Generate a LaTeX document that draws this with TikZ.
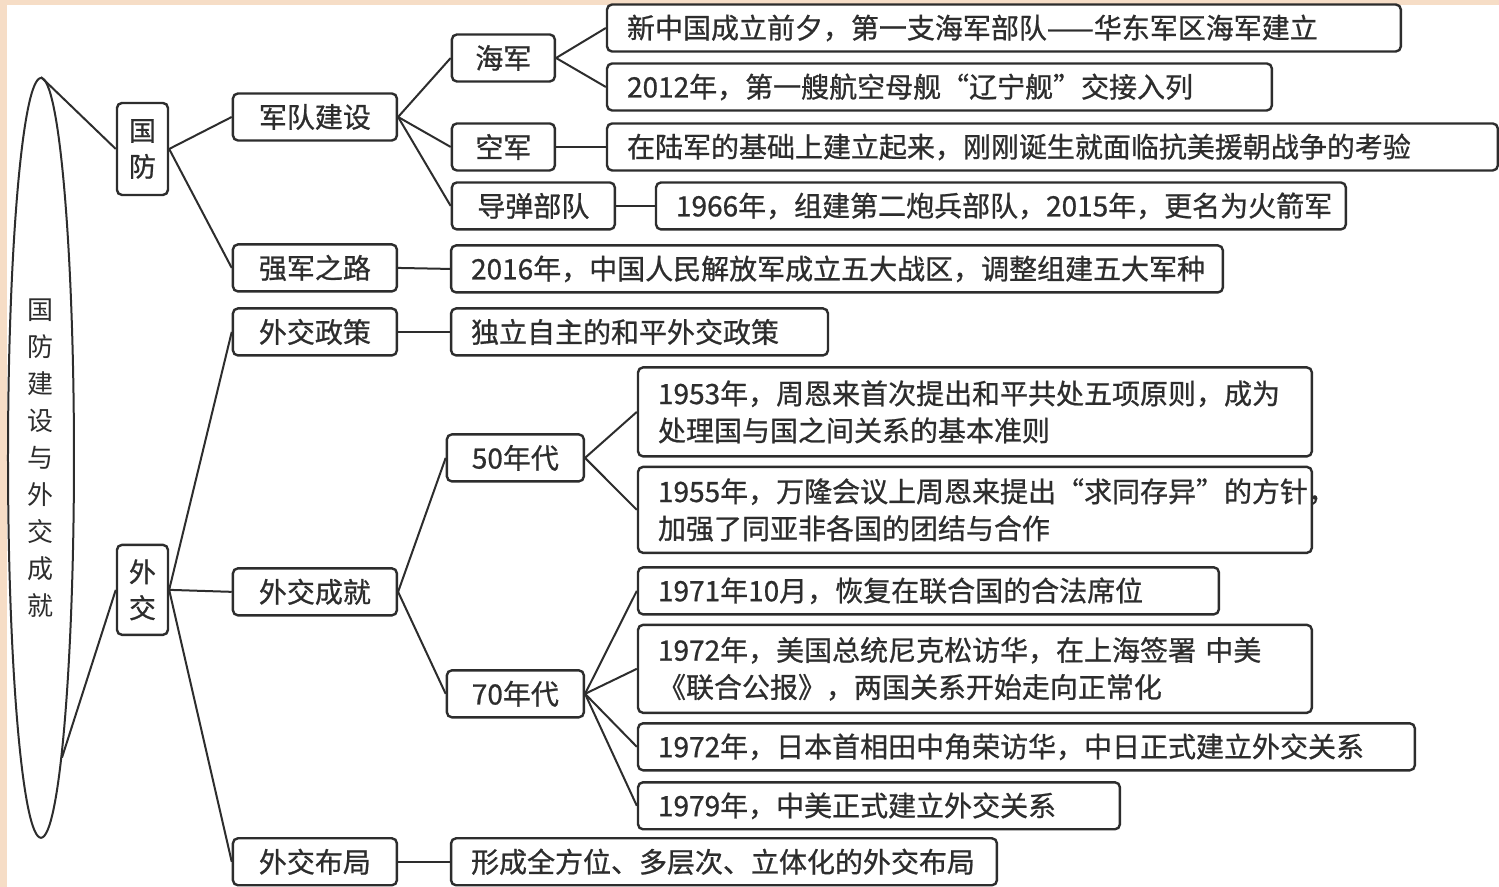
\documentclass[tikz,border=0pt]{standalone}
\usepackage{fontspec}
\newfontfamily\cjk{Noto Sans CJK SC}[FakeBold=0.8]
\newfontfamily\cjklight{Noto Sans CJK SC}
\usetikzlibrary{shapes.geometric}
\definecolor{ink}{RGB}{45,45,45}
\definecolor{peach}{RGB}{246,221,198}
\tikzset{
  box/.style={draw=ink,line width=2.4pt,rounded corners=5pt,fill=white},
  tag/.style={box,minimum height=47pt},
  tier/.style={tag,minimum width=164pt},
  note/.style={tag,anchor=west,align=left,inner xsep=20pt,text width=#1},
  link/.style={draw=ink,line width=2pt}
}

\begin{document}
\begin{tikzpicture}
  [x=1pt,y=-1pt,every node/.style={text=ink,font=\cjk\fontsize{28}{37}\selectfont}]
  \fill[peach] (0,0) rectangle (1499,887);
  \fill[white] (7,5) rectangle (1499,887);

  \node[ellipse,draw=ink,line width=2pt,minimum width=66pt,minimum height=760pt,
        inner sep=0pt,align=center,font=\cjklight\fontsize{26}{37}\selectfont]
        (root) at (41,458) {国\\防\\建\\设\\与\\外\\交\\成\\就};

  \node[box,minimum width=51pt,minimum height=92pt,inner sep=0pt,align=center,
        font=\cjk\fontsize{27}{36}\selectfont] (gf) at (142.5,149) {国\\防};
  \node[box,minimum width=51pt,minimum height=90pt,inner sep=0pt,align=center,
        font=\cjk\fontsize{27}{36}\selectfont] (wj) at (142.5,590) {外\\交};

  \node[tier] (jd) at (315,117) {军队建设};
  \node[tier] (qj) at (315,268) {强军之路};
  \node[tier] (zc) at (315,332) {外交政策};
  \node[tier] (cj) at (315,592) {外交成就};
  \node[tier] (bj) at (315,862) {外交布局};

  \node[tag,minimum width=103pt] (hj) at (503.5,58) {海军};
  \node[tag,minimum width=103pt] (kj) at (503.5,147) {空军};
  \node[tag,minimum width=163pt] (dd) at (533.5,206) {导弹部队};
  \node[tag,minimum width=137pt] (n50) at (515.5,458) {50年代};
  \node[tag,minimum width=137pt] (n70) at (515.5,694) {70年代};

  \node[note=754pt] (a1) at (606,28) {新中国成立前夕，第一支海军部队——华东军区海军建立};
  \node[note=625pt] (a2) at (606,87) {2012年，第一艘航空母舰“辽宁舰”交接入列};
  \node[note=851pt] (a3) at (606,147) {在陆军的基础上建立起来，刚刚诞生就面临抗美援朝战争的考验};
  \node[note=650pt] (a4) at (655,206) {1966年，组建第二炮兵部队，2015年，更名为火箭军};
  \node[note=732pt] (b1) at (450,269) {2016年，中国人民解放军成立五大战区，调整组建五大军种};
  \node[note=337pt] (c1) at (450,332) {独立自主的和平外交政策};
  \node[note=634pt,minimum height=89pt] (d1) at (637,412)
    {1953年，周恩来首次提出和平共处五项原则，成为\\处理国与国之间关系的基本准则};
  \node[note=634pt,minimum height=86pt] (d2) at (637,510)
    {1955年，万隆会议上周恩来提出“求同存异”的方针，\\加强了同亚非各国的团结与合作};
  \node[note=541pt] (e1) at (637,591) {1971年10月，恢复在联合国的合法席位};
  \node[note=634pt,minimum height=88pt] (e2) at (637,669)
    {1972年，美国总统尼克松访华，在上海签署 中美\\《联合公报》，两国关系开始走向正常化};
  \node[note=737pt] (e3) at (637,747) {1972年，日本首相田中角荣访华，中日正式建立外交关系};
  \node[note=442pt] (e4) at (637,806) {1979年，中美正式建立外交关系};
  \node[note=506pt] (f1) at (450,862) {形成全方位、多层次、立体化的外交布局};

  \draw[link] (root.north) -- (gf.west);
  \draw[link] (root.-86) -- (wj.west);
  \draw[link] (gf.east) -- (jd.west);
  \draw[link] (gf.east) -- (qj.west);
  \draw[link] (jd.east) -- (hj.west);
  \draw[link] (jd.east) -- (kj.west);
  \draw[link] (jd.east) -- (dd.west);
  \draw[link] (hj.east) -- (a1.west);
  \draw[link] (hj.east) -- (a2.west);
  \draw[link] (kj.east) -- (a3.west);
  \draw[link] (dd.east) -- (a4.west);
  \draw[link] (qj.east) -- (b1.west);
  \draw[link] (wj.east) -- (zc.west);
  \draw[link] (wj.east) -- (cj.west);
  \draw[link] (wj.east) -- (bj.west);
  \draw[link] (zc.east) -- (c1.west);
  \draw[link] (cj.east) -- (n50.west);
  \draw[link] (cj.east) -- (n70.west);
  \draw[link] (n50.east) -- (d1.west);
  \draw[link] (n50.east) -- (d2.west);
  \draw[link] (n70.east) -- (e1.west);
  \draw[link] (n70.east) -- (e2.west);
  \draw[link] (n70.east) -- (e3.west);
  \draw[link] (n70.east) -- (e4.west);
  \draw[link] (bj.east) -- (f1.west);
\end{tikzpicture}
\end{document}
